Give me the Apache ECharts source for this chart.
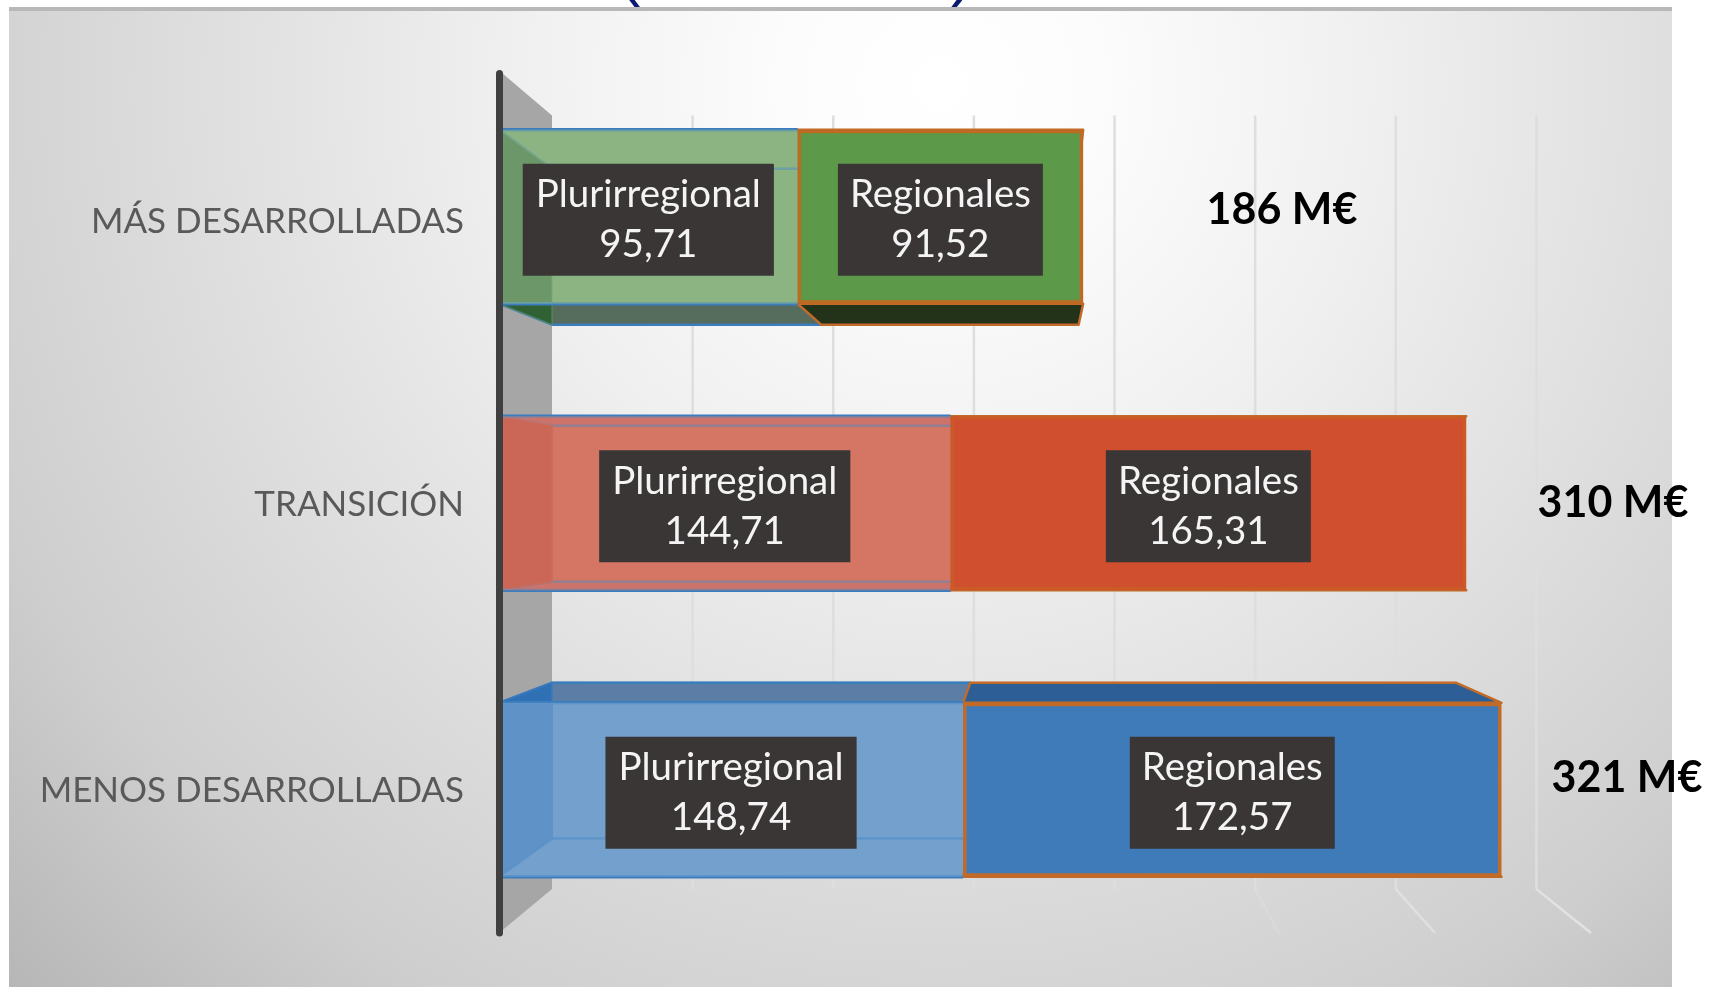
<!DOCTYPE html>
<html>
<head>
<meta charset="utf-8">
<style>html,body{margin:0;padding:0;background:#fff}#c{width:1711px;height:987px}</style>
<script src="https://cdn.jsdelivr.net/npm/echarts@6/dist/echarts.min.js"></script>
</head>
<body>
<div id="c"></div>
<script>
const categories = ['MÁS DESARROLLADAS', 'TRANSICIÓN', 'MENOS DESARROLLADAS'];
const plurirregional = [95.71, 144.71, 148.74];
const regionales = [91.52, 165.31, 172.57];
const totals = ['186 M€', '310 M€', '321 M€'];
const gridTicks = [50, 100, 150, 200, 250, 300, 350];

/* Styles */
const floorAlpha = [0, 0, 0.08, 0.1, 0.3, 0.8, 0.9];
const plurFront = ['rgba(150,190,140,0.55)', 'rgba(222,128,110,0.55)', 'rgba(125,170,212,0.55)'];
const plurBack = ['#7fa875', '#c96c5c', '#6696c4'];
const plurLeft = ['rgba(40,95,45,0.85)', 'rgba(180,65,50,0.9)', 'rgba(40,110,185,0.85)'];
const plurTop = ['#7fa875', '#b86464', '#5c7ea6'];
const plurBottom = ['#566c5c', '#b86464', '#6696c4'];
const plurEdge = ['rgba(108,154,98,0.5)', '#b4554a', '#3b79ba'];
const regFront = ['#5c9a4a', '#cf4f2f', '#3f7ab9'];
const regStrip = ['#22331a', '#7a3018', '#2d5f96'];
const regBorder = ['#bd6a22', '#cc5a28', '#c26a28'];
const blue = '#3b7dbd', orange = '#c26a28';
const totalPos = [[1282, 210], [1613, 503], [1627, 778]];
const KX = 0.9015, KY = 0.897, VX = 1037, VY = 507;
const back = (p) => [p[0] + (VX - p[0]) * (1 - KX), p[1] + (VY - p[1]) * (1 - KY)];

const comma = (v) => v.toFixed(2).replace('.', ',');

function corners(api) {
  const cat = api.value(0), s = api.value(1), e = api.value(2);
  const c = api.coord([s, cat]), d = api.coord([e, cat]);
  const h = api.size([0, 1])[1] * 0.607;
  return {
    cat,
    tl: [c[0], c[1] - h / 2], tr: [d[0], c[1] - h / 2],
    bl: [c[0], c[1] + h / 2], br: [d[0], c[1] + h / 2]
  };
}

function boxItem(params, api) {
  const kind = api.value(3);
  const { cat, tl, tr, bl, br } = corners(api);
  const btl = back(tl), btr = back(tr), bbl = back(bl), bbr = back(br);
  const poly = (pts, fill, stroke, w) => ({
    type: 'polygon', shape: { points: pts },
    style: { fill, stroke: stroke || 'none', lineWidth: w || 0, lineJoin: 'round' }
  });
  const children = [];
  if (kind === 0) {
    children.push(poly([btl, btr, bbr, bbl], plurBack[cat], plurEdge[cat], 2));
    children.push(poly([tl, tr, btr, btl], plurTop[cat], blue, 2.5));
    children.push(poly([bl, br, bbr, bbl], plurBottom[cat], blue, 2.5));
    children.push(poly([tl, btl, bbl, bl], plurLeft[cat], plurEdge[cat], 1.5));
  } else {
    children.push(poly([tl, tr, btr, btl], regStrip[cat], orange, 2.5));
    children.push(poly([bl, br, bbr, bbl], regStrip[cat], orange, 2.5));
  }
  return { type: 'group', children };
}

function edgeItem(params, api) {
  const { tl, tr, bl, br } = corners(api);
  const line = (a, b) => ({
    type: 'line', shape: { x1: a[0], y1: a[1], x2: b[0], y2: b[1] },
    style: { stroke: blue, lineWidth: 3.5 }
  });
  return { type: 'group', children: [line(tl, tr), line(bl, br)] };
}

function wallItem(params, api) {
  const cs = params.coordSys;
  const t = [cs.x, cs.y - 3], b = [cs.x, cs.y + cs.height];
  const bt = back(t), bb = back(b);
  return { type: 'polygon', shape: { points: [t, bt, bb, b] }, style: { fill: '#a6a6a6' } };
}

function tickItem(params, api) {
  const cs = params.coordSys;
  const x = api.coord([api.value(0), 0])[0];
  const t = [x, cs.y - 3], b = [x, cs.y + cs.height];
  const bt = back(t), bb = back(b);
  return {
    type: 'group', children: [
      { type: 'line', shape: { x1: bt[0], y1: bt[1], x2: bb[0], y2: bb[1] },
        style: { stroke: '#dedede', lineWidth: 2.5 } },
      { type: 'line', shape: { x1: bb[0], y1: bb[1], x2: b[0], y2: b[1] },
        style: { stroke: 'rgba(228,228,228,' + floorAlpha[params.dataIndex] + ')', lineWidth: 2.5 } }
    ]
  };
}

const boxData = [];
plurirregional.forEach((v, i) => boxData.push([i, 0, v, 0]));
regionales.forEach((v, i) => boxData.push([i, plurirregional[i], plurirregional[i] + v, 1]));
const edgeData = plurirregional.map((v, i) => [i, 0, v]);

const labelStyle = {
  show: true, position: 'inside', offset: [0, 3], color: '#f4f4f4', fontFamily: 'Lato', fontSize: 38.5,
  lineHeight: 50, backgroundColor: '#3a3636',
  formatter: (p) => p.seriesName + '\n' + comma(p.value)
};
const axisTextStyle = { color: '#595959', fontFamily: 'Lato', fontSize: 35 };

const chart = echarts.init(document.getElementById('c'), null, { renderer: 'canvas' });
chart.setOption({
  animation: false,
  backgroundColor: '#fff',
  grid: { left: 499, top: 73.5, width: 1092, height: 859.5 },
  xAxis: { type: 'value', min: 0, max: 350, interval: 50, show: false },
  yAxis: {
    type: 'category', data: categories, inverse: true, z: 10,
    axisLine: { show: true, lineStyle: { color: '#404040', width: 7, cap: 'round' } },
    axisTick: { show: false },
    axisLabel: {
      ...axisTextStyle, margin: 35,
      formatter: (v, i) => (i === 0 ? '{a|' : '{b|') + v + '}',
      rich: {
        a: { ...axisTextStyle, padding: [10, 0, 0, 0] },
        b: { ...axisTextStyle, padding: [2, 0, 0, 0] }
      }
    }
  },
  series: [
    { type: 'custom', z: 1, clip: false, silent: true, renderItem: wallItem, data: [[0]], encode: { x: 0 } },
    { type: 'custom', z: 1, clip: false, silent: true, renderItem: tickItem, data: gridTicks.map((t) => [t]), encode: { x: 0 } },
    { type: 'custom', z: 2, clip: false, silent: true, renderItem: boxItem, data: boxData, encode: { x: [1, 2], y: 0 } },
    {
      name: 'Plurirregional', type: 'bar', stack: 'total', barWidth: '60.7%', z: 3,
      data: plurirregional.map((v, i) => ({
        value: v,
        itemStyle: { color: plurFront[i] }
      })),
      label: { ...labelStyle, padding: [6, 13, 6, 13] }
    },
    { type: 'custom', z: 3, clip: false, silent: true, renderItem: edgeItem, data: edgeData, encode: { x: [1, 2], y: 0 } },
    {
      name: 'Regionales', type: 'bar', stack: 'total', barWidth: '60.7%', z: 4,
      data: regionales.map((v, i) => ({
        value: v,
        itemStyle: { color: regFront[i], borderColor: regBorder[i], borderWidth: 3.5 }
      })),
      label: { ...labelStyle, padding: [6, 12, 6, 12] }
    }
  ],
  graphic: { elements: [
    { type: 'text', z: -20, x: 619, y: -24, style: { text: '(', fill: '#0a1a70', font: '64px "Liberation Sans"', verticalAlign: 'middle' } },
    { type: 'text', z: -20, x: 951, y: -24, style: { text: ')', fill: '#0a1a70', font: '64px "Liberation Sans"', verticalAlign: 'middle' } },
    {
      type: 'rect', z: -10, shape: { x: 9, y: 7, width: 1663, height: 980 },
      style: { fill: new echarts.graphic.RadialGradient(0.56, 0.08, 1.35, [
        { offset: 0, color: '#ffffff' },
        { offset: 0.12, color: '#fcfcfc' },
        { offset: 0.32, color: '#f0f0f0' },
        { offset: 0.55, color: '#dfdfdf' },
        { offset: 0.78, color: '#cecece' },
        { offset: 1, color: '#b4b4b4' }
      ]) }
    },
    { type: 'rect', z: -9, shape: { x: 9, y: 7, width: 1663, height: 4 }, style: { fill: '#b8b8b8' } },
    ...totals.map((t, i) => ({
      type: 'text', z: 100, x: totalPos[i][0], y: totalPos[i][1],
      style: { text: t, fill: '#000', font: 'bold 43px Lato', align: 'center', verticalAlign: 'middle' }
    }))
  ] }
});
</script>
</body>
</html>
